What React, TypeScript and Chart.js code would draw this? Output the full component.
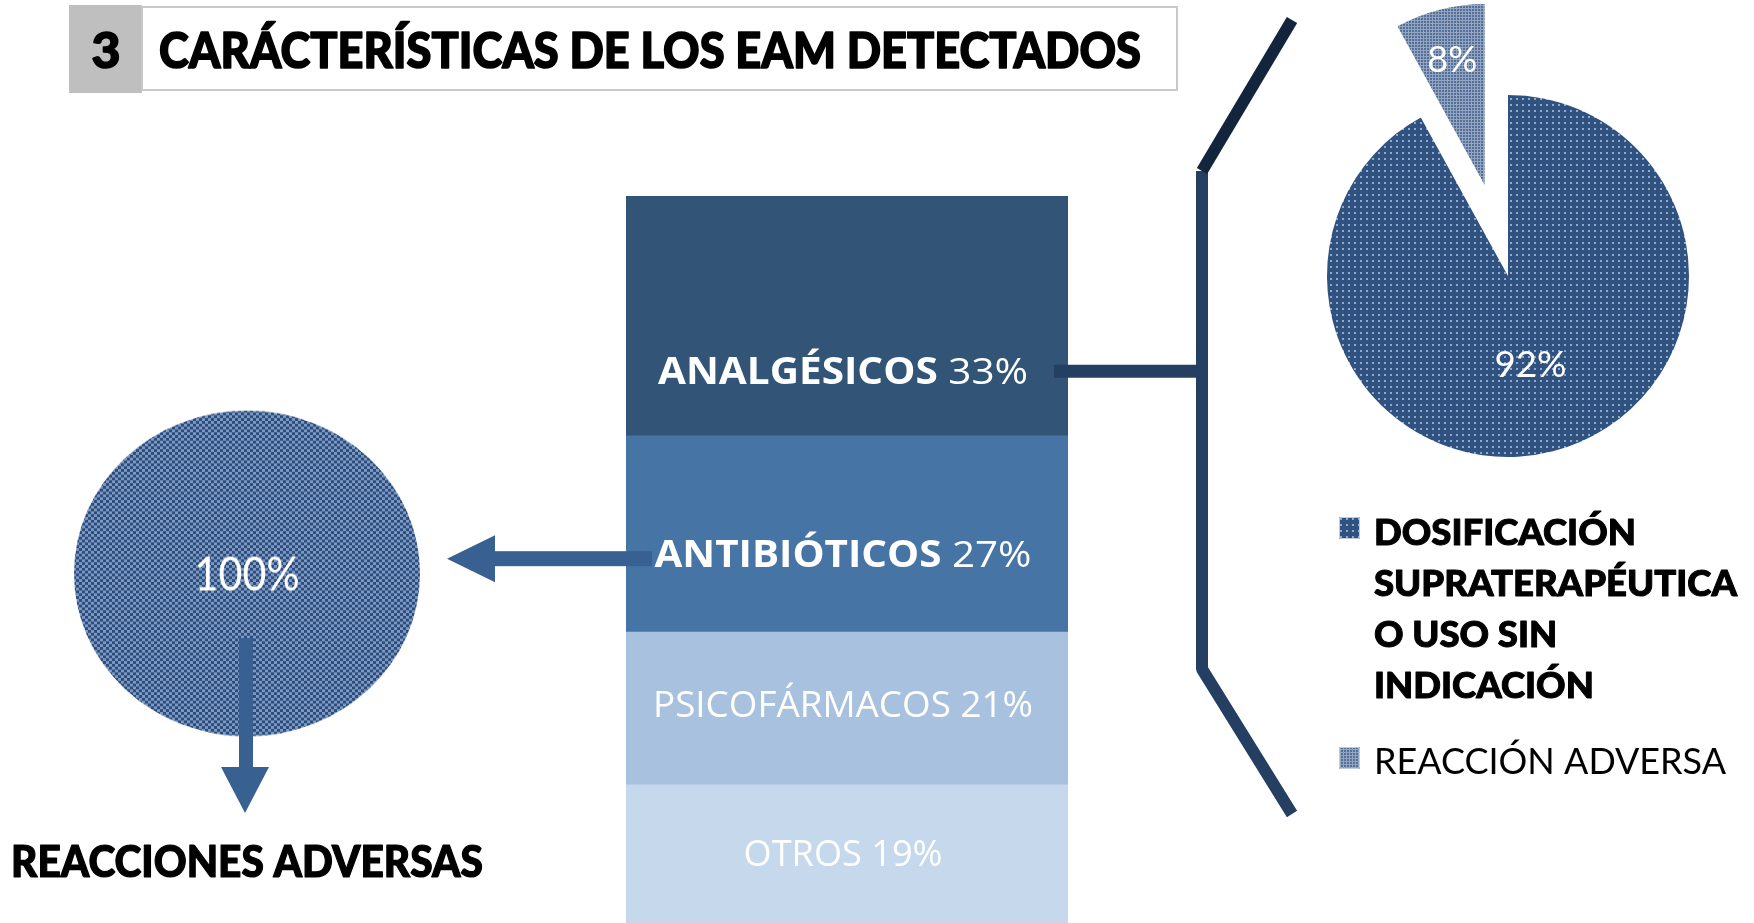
import React, { useEffect, useRef } from "react";
import { Chart, registerables } from "chart.js";
Chart.register(...registerables);

// ---------- data ----------
const titleNumber = "3";
const titleText = "CARÁCTERÍSTICAS DE LOS EAM DETECTADOS";

// stacked bar, listed top to bottom
const drugGroups = ["ANALGÉSICOS", "ANTIBIÓTICOS", "PSICOFÁRMACOS", "OTROS"];
const drugShares = [33, 27, 21, 19];
const drugBoldName = [true, true, false, false];

// analgesics pie
const analgesicCauses = ["DOSIFICACIÓN SUPRATERAPÉUTICA O USO SIN INDICACIÓN", "REACCIÓN ADVERSA"];
const analgesicShares = [92, 8];
const analgesicLegendLines = [["DOSIFICACIÓN", "SUPRATERAPÉUTICA", "O USO SIN", "INDICACIÓN"], ["REACCIÓN ADVERSA"]];
const analgesicLegendBold = [true, false];

// antibiotics pie
const antibioticCauses = ["REACCIONES ADVERSAS"];
const antibioticShares = [100];

// ---------- style ----------
const W = 1754;
const H = 923;
const drugColors = ["#315477", "#4675A5", "#A7C1DF", "#C5D8EC"];
const labelFrac = [0.73, 0.6, 0.47, 0.49];
const labelWidths = [370, 377, 380, 199];
const arrowColor = "#386191";
const bracketColor = "#243F61";
const bracketTopColor = "#13243D";
const CAP = 0.72;

function makePattern(size: number, bg: string, fg: string, cells: number[][]) {
  const c = document.createElement("canvas");
  c.width = size;
  c.height = size;
  const x = c.getContext("2d")!;
  x.fillStyle = bg;
  x.fillRect(0, 0, size, size);
  x.fillStyle = fg;
  cells.forEach(([a, b, w, h]) => x.fillRect(a, b, w, h));
  return x.createPattern(c, "repeat")!;
}

type Part = { text: string; font: string };
function drawParts(
  ctx: CanvasRenderingContext2D,
  parts: Part[],
  x: number,
  baseline: number,
  color: string,
  align: "center" | "left",
  targetW?: number,
  fixedScale?: number,
  strokeW = 0
) {
  const widths = parts.map((p) => {
    ctx.font = p.font;
    return ctx.measureText(p.text).width;
  });
  const total = widths.reduce((a, b) => a + b, 0);
  const sx = fixedScale ?? (targetW ? targetW / total : 1);
  ctx.save();
  ctx.translate(x, baseline);
  ctx.scale(sx, 1);
  ctx.fillStyle = color;
  ctx.strokeStyle = color;
  ctx.lineWidth = strokeW;
  ctx.lineJoin = "round";
  ctx.textAlign = "left";
  ctx.textBaseline = "alphabetic";
  let cx = align === "center" ? -total / 2 : 0;
  parts.forEach((p, i) => {
    ctx.font = p.font;
    ctx.fillText(p.text, cx, 0);
    if (strokeW > 0) ctx.strokeText(p.text, cx, 0);
    cx += widths[i];
  });
  ctx.restore();
}

function measure(ctx: CanvasRenderingContext2D, text: string, font: string) {
  ctx.font = font;
  return ctx.measureText(text).width;
}

const explodePlugin = (dist: number[]) => ({
  id: "explode",
  afterUpdate(chart: any) {
    chart.getDatasetMeta(0).data.forEach((arc: any, i: number) => {
      const d = dist[i] || 0;
      if (!d) return;
      const mid = (arc.startAngle + arc.endAngle) / 2;
      arc.x += Math.cos(mid) * d;
      arc.y += Math.sin(mid) * d;
    });
  },
});

const pieLabelPlugin = (texts: string[], fracs: number[], size: number, widths: number[]) => ({
  id: "pieLabels",
  afterDatasetsDraw(chart: any) {
    const ctx = chart.ctx as CanvasRenderingContext2D;
    chart.getDatasetMeta(0).data.forEach((arc: any, i: number) => {
      const full = arc.circumference >= 2 * Math.PI - 1e-6;
      const mid = (arc.startAngle + arc.endAngle) / 2;
      const r = full ? 0 : arc.outerRadius * fracs[i];
      const x = arc.x + Math.cos(mid) * r;
      const y = arc.y + Math.sin(mid) * r;
      drawParts(ctx, [{ text: texts[i], font: `400 ${size}px Lato` }], x, y + (size * CAP) / 2, "#FFFFFF", "center", widths[i]);
    });
  },
});

export default function App() {
  const mainRef = useRef<HTMLCanvasElement>(null);
  const leftRef = useRef<HTMLCanvasElement>(null);
  const rightRef = useRef<HTMLCanvasElement>(null);

  useEffect(() => {
    const patChecker = makePattern(6, "#2B4C7C", "#7E99C1", [[0, 0, 3, 3], [3, 3, 3, 3]]);
    const patDots = makePattern(6, "#2F5280", "#93A9C7", [[2, 2, 2, 2]]);
    const patMesh = makePattern(3, "#93A5BF", "#54709A", [[0, 0, 2, 2]]);

    const decoPlugin = {
      id: "deco",
      afterDraw(chart: any) {
        const ctx = chart.ctx as CanvasRenderingContext2D;
        ctx.save();

        // title block
        ctx.fillStyle = "#BFBFBF";
        ctx.fillRect(69, 5, 73, 88);
        ctx.strokeStyle = "#C9C9C9";
        ctx.lineWidth = 2;
        ctx.strokeRect(142, 7, 1035, 83);
        drawParts(ctx, [{ text: titleNumber, font: "900 50px Lato" }], 106, 68, "#000000", "center", undefined, undefined, 1.6);
        drawParts(ctx, [{ text: titleText, font: "900 50px Lato" }], 159, 68, "#000000", "left", 982, undefined, 1.6);

        // bar label positions
        const n = drugGroups.length;
        const labelY: number[] = [];
        const barX: number[] = [];
        drugGroups.forEach((_, i) => {
          const el = chart.getDatasetMeta(n - 1 - i).data[0] as any;
          const top = Math.min(el.y, el.base);
          const bot = Math.max(el.y, el.base);
          labelY[i] = top + (bot - top) * labelFrac[i];
          barX[i] = el.x;
        });

        // bracket + connector
        ctx.lineCap = "butt";
        ctx.lineJoin = "bevel";
        ctx.strokeStyle = bracketColor;
        ctx.lineWidth = 13;
        ctx.beginPath();
        ctx.moveTo(1054, labelY[0]);
        ctx.lineTo(1202, labelY[0]);
        ctx.stroke();
        ctx.lineWidth = 12;
        ctx.beginPath();
        ctx.moveTo(1202, 171);
        ctx.lineTo(1202, 669);
        ctx.lineTo(1292, 814);
        ctx.stroke();
        ctx.strokeStyle = bracketTopColor;
        ctx.beginPath();
        ctx.moveTo(1292, 20);
        ctx.lineTo(1202, 171);
        ctx.stroke();

        // left arrow (antibiotics -> pie)
        const ay = labelY[1] + 5;
        ctx.fillStyle = arrowColor;
        ctx.fillRect(494, ay - 7.5, 158, 15);
        ctx.beginPath();
        ctx.moveTo(447, ay);
        ctx.lineTo(495, ay - 23.5);
        ctx.lineTo(495, ay + 23.5);
        ctx.closePath();
        ctx.fill();

        // down arrow
        ctx.fillRect(239, 638, 14, 130);
        ctx.beginPath();
        ctx.moveTo(221, 767);
        ctx.lineTo(269, 767);
        ctx.lineTo(245, 813);
        ctx.closePath();
        ctx.fill();

        // bar labels
        const fs = 37;
        drugGroups.forEach((name, i) => {
          const parts: Part[] = [
            { text: name, font: `${drugBoldName[i] ? 700 : 400} ${fs}px 'Open Sans'` },
            { text: ` ${drugShares[i]}%`, font: `400 ${fs}px 'Open Sans'` },
          ];
          drawParts(ctx, parts, barX[i] - 4, labelY[i] + (fs * 0.714) / 2, "#FFFFFF", "center", labelWidths[i]);
        });

        // caption under left pie
        drawParts(ctx, [{ text: antibioticCauses[0], font: "900 43px Lato" }], 11, 877, "#000000", "left", 472, undefined, 1.2);

        // legend
        const lf = 36;
        const boldFont = `900 ${lf}px Lato`;
        const regFont = `400 ${lf}px Lato`;
        const sBold = 363 / measure(ctx, "SUPRATERAPÉUTICA", boldFont);
        const sReg = 352 / measure(ctx, analgesicLegendLines[1][0], regFont);
        const squareY = [517, 747];
        const firstBase = [545, 774];
        const pats = [patDots, patMesh];
        analgesicLegendLines.forEach((lines, k) => {
          ctx.fillStyle = pats[k];
          ctx.fillRect(1339, squareY[k], 21, 22);
          ctx.strokeStyle = "#C3CBD6";
          ctx.lineWidth = 1;
          ctx.strokeRect(1339.5, squareY[k] + 0.5, 20, 21);
          lines.forEach((line, j) => {
            drawParts(
              ctx,
              [{ text: line, font: analgesicLegendBold[k] ? boldFont : regFont }],
              1374,
              firstBase[k] + j * 51,
              "#000000",
              "left",
              undefined,
              analgesicLegendBold[k] ? sBold : sReg,
              analgesicLegendBold[k] ? 1 : 0
            );
          });
        });

        ctx.restore();
      },
    };

    const main = new Chart(mainRef.current!, {
      type: "bar",
      data: {
        labels: [""],
        datasets: drugGroups.map((_, k) => {
          const i = drugGroups.length - 1 - k;
          return {
            label: drugGroups[i],
            data: [drugShares[i]],
            backgroundColor: drugColors[i],
            borderWidth: 0,
            barPercentage: 1,
            categoryPercentage: 1,
          };
        }),
      },
      options: {
        responsive: false,
        animation: false,
        events: [],
        layout: { padding: { left: 626, right: W - 1068, top: 196, bottom: 0 } },
        scales: {
          x: { stacked: true, display: false },
          y: { stacked: true, display: false, min: 0, max: 100 },
        },
        plugins: { legend: { display: false }, tooltip: { enabled: false } },
      },
      plugins: [decoPlugin],
    });

    const right = new Chart(rightRef.current!, {
      type: "pie",
      data: {
        labels: analgesicCauses,
        datasets: [{ data: analgesicShares, backgroundColor: [patDots, patMesh], borderWidth: 0 }],
      },
      options: {
        responsive: false,
        animation: false,
        events: [],
        radius: 181,
        plugins: { legend: { display: false }, tooltip: { enabled: false } },
      } as any,
      plugins: [explodePlugin([0, 94]), pieLabelPlugin(analgesicShares.map((v) => `${v}%`), [0.5, 0.72], 37, [72, 50])],
    });

    const left = new Chart(leftRef.current!, {
      type: "pie",
      data: {
        labels: antibioticCauses,
        datasets: [{ data: antibioticShares, backgroundColor: [patChecker], borderWidth: 0 }],
      },
      options: {
        responsive: false,
        animation: false,
        events: [],
        radius: 173,
        plugins: { legend: { display: false }, tooltip: { enabled: false } },
      } as any,
      plugins: [pieLabelPlugin(antibioticShares.map((v) => `${v}%`), [0], 50, [105])],
    });

    return () => {
      main.destroy();
      right.destroy();
      left.destroy();
    };
  }, []);

  return (
    <div
      style={{
        position: "absolute",
        left: 0,
        top: 0,
        width: W,
        height: H,
        overflow: "hidden",
        background: "#FFFFFF",
      }}
    >
      <canvas
        ref={leftRef}
        width={360}
        height={360}
        style={{ position: "absolute", left: 67, top: 403.5, width: "360px", height: "339px" }}
      />
      <canvas
        ref={rightRef}
        width={552}
        height={552}
        style={{ position: "absolute", left: 1232, top: 0, width: "552px", height: "552px" }}
      />
      <canvas
        ref={mainRef}
        width={W}
        height={H}
        style={{ position: "absolute", left: 0, top: 0, width: `${W}px`, height: `${H}px`, zIndex: 2 }}
      />
    </div>
  );
}
